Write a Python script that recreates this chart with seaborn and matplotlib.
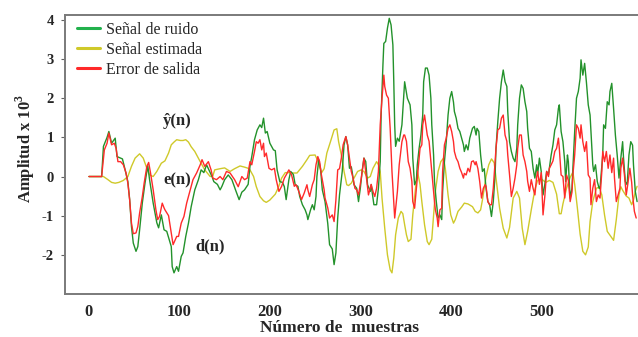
import matplotlib
matplotlib.use("Agg")
import matplotlib.pyplot as plt
import seaborn as sns
import pandas as pd
from matplotlib.lines import Line2D

# ---------------- data ----------------
# d(n): Señal de ruido
d_n = [0,14,16,20,22,25,29,31,34,37,40,43,45,47,49,52,54,56,59,62,65,67,71,75,77,80,83,86,91,92,94,97,99,102,104,107,110,113,117,121,124,127,130,134,136,138,142,145,147,150,154,158,162,166,169,172,176,178,180,183,186,189,191,193,195,197,200,204,206,208,211,214,216,218,221,223,226,228,231,233,236,239,241,242,245,247,249,251,252,254,256,258,261,264,266,269,271,273,275,277,280,282,284,286,288,290,291,293,296,298,300,302,304,306,308,311,312,315,318,320,322,323,325,326,328,330,332,334,336,337,338,339,341,343,346,348,349,352,355,357,358,360,362,363,365,367,369,370,372,374,376,378,379,381,382,384,386,388,390,391,393,395,397,399,401,403,404,406,408,410,412,414,415,417,419,421,424,426,428,429,431,433,435,437,439,441,443,445,447,449,450,452,454,456,458,460,462,463,465,467,469,471,473,474,476,478,480,482,484,485,487,489,491,493,495,496,498,500,502,504,506,508,509,511,513,515,517,519,520,522,524,526,527,529,530,531,532,534,535,537,539,541,543,544,546,548,550,552,554,555,557,558,560,562,564,565,568,569,571,573,575,576,578,580,582,584,586,588,590,591,593,595,597,599,601,602,604,606]
d_val = [0,0,0.77,1.0,1.15,0.85,0.98,0.51,0.48,0.45,0.17,-0.13,-0.59,-1.28,-1.7,-1.91,-1.79,-1.36,-0.67,-0.16,0.28,-0.08,-0.68,-1.18,-1.31,-0.98,-1.36,-1.4,-1.79,-2.3,-2.46,-2.3,-2.42,-2.04,-1.95,-1.53,-1.19,-0.77,-0.34,-0.08,0.17,0.1,0.3,0.1,0,-0.13,-0.2,-0.34,-0.25,-0.08,0.04,-0.08,-0.34,-0.59,-0.4,-0.34,-0.2,0.26,0.51,0.94,1.19,1.32,1.25,1.49,1.11,1.15,0.85,0.68,0.66,0.17,-0.13,-0.15,-0.26,-0.59,-0.08,0.13,0.05,-0.21,-0.25,-0.51,-0.72,-0.85,-0.98,-1.1,-0.85,-0.72,-0.85,-0.51,0,0.43,0.2,-0.34,-0.64,-1.2,-1.74,-1.85,-2.25,-1.95,-1.06,-0.47,0.13,0.81,1.02,0.8,0.21,0.25,0.12,-0.21,-0.3,-0.64,-0.3,0.13,0.47,0.38,-0.21,-0.38,-0.21,-0.72,-0.72,-0.3,0.38,1.57,2.85,3.4,3.45,3.79,4.04,3.87,3.36,2.42,1.32,0.77,0.98,0.9,1.32,2.08,2.42,2.0,1.83,1.32,0.47,-0.21,-0.1,0.3,0.72,1.06,1.57,2.42,2.77,2.77,2.59,2.0,1.32,0.55,-0.13,-0.64,-1.06,-0.98,-1.1,-0.38,0.38,0.89,1.57,2.0,2.17,1.9,1.66,1.49,1.23,1.15,0.98,0.81,0.64,0.81,0.68,0.98,1.23,1.28,1.06,1.23,1.15,0.55,0.13,0.2,-0.3,-0.64,-0.72,-1.02,-0.64,0.04,0.72,1.4,2.0,2.42,2.72,2.42,2.3,1.66,0.89,0.64,0.47,0.38,0.72,1.32,2.0,2.34,2.25,1.91,1.66,1.23,0.72,0.64,0.21,-0.04,0.3,0.04,0.47,0.13,-0.47,-0.2,0.13,0.04,0.21,0.55,0.81,1.19,1.32,1.74,1.83,1.15,0.89,0.38,-0.13,0.55,0.38,-0.13,-0.55,-0.3,0.21,1.15,2.0,2.17,2.51,2.98,2.59,2.89,2.4,1.83,1.57,1.15,0.3,0.13,0.3,-0.13,-0.3,-0.3,0.55,1.32,1.23,1.91,1.83,2.17,2.38,1.74,1.06,0.55,-0.04,0.47,0.89,0.47,-0.13,-0.21,0.55,0.89,0.8,0.3,-0.38,-0.64]

# y^(n): Señal estimada
y_n = [0,16,21,25,29,33,38,43,47,51,56,60,64,67,71,75,80,84,88,91,94,97,101,104,107,110,113,117,123,128,134,137,139,145,150,156,161,167,172,176,178,182,185,189,193,196,200,206,209,213,217,222,226,230,236,241,244,250,253,257,260,263,267,271,274,276,279,282,285,287,290,293,297,301,304,308,311,314,318,320,322,324,327,330,333,335,337,339,342,345,347,349,351,353,356,358,361,363,366,368,371,374,376,379,381,383,386,389,392,394,397,400,403,405,408,412,415,419,424,427,430,433,435,439,442,445,448,450,454,458,462,465,469,473,476,479,482,485,489,493,496,500,505,509,513,517,520,522,524,528,532,535,537,540,543,546,549,552,554,557,561,564,567,570,573,576,580,583,586,588,590,594,597,600,602,604,606]
y_val = [0,0,-0.08,-0.15,-0.17,-0.15,-0.1,0.0,0.26,0.47,0.58,0.47,0.21,0.04,0.0,0.13,0.34,0.4,0.6,0.81,0.88,0.94,0.92,0.92,0.94,0.88,0.76,0.64,0.38,0.17,0.0,0.02,0.17,0.2,0.22,0.13,0.2,0.27,0.24,0.21,0.17,0.0,-0.26,-0.51,-0.62,-0.66,-0.6,-0.45,-0.3,-0.04,0.1,0.1,0.09,0.09,0.26,0.43,0.54,0.55,0.4,0.09,0.2,0.6,0.89,1.19,1.22,0.89,0.55,0.13,-0.21,-0.23,-0.17,-0.04,0.13,0.17,0.13,-0.04,0.0,0.21,0.38,0.3,0.13,-0.55,-1.32,-2.0,-2.38,-2.46,-2.08,-1.49,-1.06,-0.89,-0.95,-1.23,-1.49,-1.66,-1.6,-0.98,-0.3,0.15,-0.2,-0.64,-1.23,-1.66,-1.74,-1.6,-0.98,-0.38,0.13,0.38,0.47,0.2,-0.47,-0.98,-1.19,-1.1,-0.89,-0.78,-0.68,-0.7,-0.77,-0.89,-0.93,-0.85,-0.6,0.0,0.3,0.45,0.35,-0.04,-0.81,-1.32,-1.57,-1.3,-0.55,-0.38,-0.55,-1.32,-1.74,-1.4,-0.85,-0.33,-0.1,-0.06,-0.15,-0.1,-0.15,-0.45,-0.95,-0.95,-0.7,-0.3,-0.02,0.11,-0.2,-0.81,-1.47,-1.91,-2.0,-1.8,-1.15,-0.64,-0.3,-0.27,-0.47,-0.98,-1.4,-1.5,-1.63,-1.1,-0.47,-0.26,-0.35,-0.5,-0.55,-0.72,-0.6,-0.38,-0.25]

# e(n): Error de salida
e_n = [0,14,17,20,22,25,28,30,32,35,38,41,43,45,47,49,52,54,56,59,61,64,66,68,71,74,76,78,81,83,84,88,91,93,97,99,102,105,108,112,115,119,123,125,128,132,135,137,141,145,148,152,156,161,165,169,172,175,178,180,183,185,187,189,191,193,194,196,199,202,205,207,210,213,216,218,221,224,227,229,232,235,238,241,242,244,247,249,251,253,255,257,260,261,264,266,269,271,273,275,277,279,281,284,286,288,290,292,294,296,298,301,304,306,309,312,314,316,318,320,322,324,326,327,329,331,333,335,337,338,341,343,346,348,349,351,353,355,357,358,360,362,364,366,368,369,371,372,374,376,378,380,382,383,385,386,388,390,391,393,395,397,399,401,403,404,406,408,410,412,414,415,417,419,421,423,425,427,428,430,432,434,436,438,439,441,443,445,447,449,450,452,454,456,458,460,462,463,465,467,469,471,473,474,476,478,480,482,484,485,487,489,491,493,495,496,498,500,502,504,506,508,509,511,513,515,517,519,520,522,524,526,528,530,532,534,535,537,539,541,543,544,546,548,550,552,554,555,557,559,561,563,565,567,568,570,572,574,576,578,580,581,583,585,587,588,590,592,594,596,598,600,601,603,605]
e_val = [0,0,0.68,0.85,1.11,0.81,0.85,0.72,0.38,0.38,0.3,0.09,-0.17,-0.6,-1.19,-1.46,-1.44,-1.28,-0.93,-0.51,-0.17,0.26,0.36,0.1,-0.34,-0.85,-1.1,-1.02,-0.68,-0.8,-0.85,-1.0,-1.44,-1.74,-1.53,-1.53,-1.19,-1.02,-0.68,-0.34,-0.08,0.09,0.3,0.43,0.26,0.38,0.17,-0.04,-0.08,0,-0.08,0.13,0.09,-0.08,-0.26,0.0,-0.08,-0.04,0.38,0.3,0.64,0.89,0.85,0.94,0.68,0.85,0.51,0.6,0.21,0.17,0.21,-0.08,-0.38,-0.25,-0.04,0.04,0.17,0.04,-0.25,-0.21,-0.38,-0.59,-0.42,-0.21,-0.34,-0.51,-0.21,-0.08,0.3,0.51,0.38,0.04,-0.34,-0.55,-0.8,-1.06,-0.98,-1.15,-0.6,0.17,0.2,0.47,0.81,1.02,0.81,0.47,0.13,-0.04,-0.3,-0.34,-0.47,-0.05,0.47,0.12,-0.47,-0.2,-0.38,-0.51,-0.3,0.13,1.32,2.0,2.59,2.3,2.08,2.0,1.23,0.13,-0.64,-1.06,-0.38,0.3,0.89,1.06,1.06,0.9,0.38,0.21,-0.13,-0.64,-0.81,-0.3,0.21,0.72,0.81,1.32,1.57,1.4,1.06,0.9,0.38,-0.13,-0.64,-0.85,-1.06,-1.28,-0.85,-0.81,0.13,0.81,0.98,1.23,1.32,1.15,0.89,0.64,0.47,0.38,0.21,0.1,-0.04,0.08,0.04,0.21,0.12,0.38,0.4,0.3,0.38,0.2,-0.13,-0.55,-0.3,-0.21,-0.25,-0.64,-0.72,-0.72,-0.3,0.38,0.72,1.19,1.23,1.49,1.57,1.06,0.9,0.55,0.04,-0.51,-0.3,-0.04,0.3,0.72,1.06,1.06,0.55,0.38,0.13,-0.12,-0.38,-0.08,-0.3,-0.47,0.0,0.13,-0.2,0.1,-0.98,-0.5,0.13,0.0,0.21,0.3,0.4,0.64,0.72,0.98,0.72,0.04,0.0,-0.55,0.04,-0.1,-0.64,-0.4,0.04,0.55,1.32,1.23,0.98,1.32,0.89,0.64,0.89,0.04,-0.04,-0.72,-0.3,-0.08,-0.64,-0.47,-0.55,0.13,0.64,0.38,0.64,0.21,0.55,0.1,0.47,-0.04,-0.64,-0.47,-0.3,0.21,0.47,0.04,-0.47,-0.15,0.21,-0.15,-0.47,-0.89,-1.06]

labels = ["Señal de ruido", "Señal estimada", "Error de salida"]
x_ticks = [0, 100, 200, 300, 400, 500]
y_ticks = [-2, -1, 0, 1, 2, 3, 4]
x_title = "Número de  muestras"
y_title = r"Amplitud x 10$^{\mathbf{3}}$"

# ---------------- styling ----------------
sns.set_theme(style="white")
plt.rcParams["font.family"] = ["Liberation Serif", "DejaVu Serif"]
plt.rcParams["mathtext.fontset"] = "custom"
plt.rcParams["mathtext.rm"] = "Liberation Serif"
plt.rcParams["mathtext.bf"] = "Liberation Serif:bold"

c_green_line = "#23922b"
c_yellow = "#cfc92a"
c_red = "#ff2a2a"
c_green_leg = "#22b14c"

W, H = 638, 337
fig = plt.figure(figsize=(W / 100, H / 100), dpi=100)
ax = fig.add_axes([65 / W, 43 / H, 573 / W, 279 / H])

df_d = pd.DataFrame({"n": d_n, "v": d_val})
df_y = pd.DataFrame({"n": y_n, "v": y_val})
df_e = pd.DataFrame({"n": e_n, "v": e_val})

sns.lineplot(data=df_y, x="n", y="v", ax=ax, color=c_yellow, lw=1.0, estimator=None, legend=False)
sns.lineplot(data=df_d, x="n", y="v", ax=ax, color=c_green_line, lw=1.0, estimator=None, legend=False)
sns.lineplot(data=df_e, x="n", y="v", ax=ax, color=c_red, lw=1.0, estimator=None, legend=False)

ax.set_xlim(-26.5, 607)
ax.set_ylim(-3.0, 4.125)

ax.set_xticks(x_ticks)
ax.set_xticklabels([str(t) for t in x_ticks], fontsize=12, fontweight="bold")
ax.set_yticks(y_ticks)
ax.set_yticklabels([str(t) for t in y_ticks], fontsize=10.5, fontweight="bold")
ax.tick_params(axis="x", length=0, pad=7)
ax.tick_params(axis="y", length=3, width=0.8, color="#606060", pad=5, left=True)

for s in ["left", "bottom", "top"]:
    ax.spines[s].set_color("#7a7a7a")
    ax.spines[s].set_linewidth(1.4)
ax.spines["right"].set_visible(False)

ax.set_xlabel("")
ax.set_ylabel("")
fig.text(340 / W, 1 / H, x_title, ha="center", va="bottom", fontsize=12.5, fontweight="bold")
fig.text(25 / W, 1 - 148 / H, y_title, ha="center", va="center", rotation=90, fontsize=12, fontweight="bold")

# annotations
ax.text(97.8, 1.42, "ŷ(n)", ha="center", va="center", fontsize=12, fontweight="bold")
ax.text(97.8, -0.11, "e(n)", ha="center", va="center", fontsize=12, fontweight="bold")
ax.text(133.7, -1.79, "d(n)", ha="center", va="center", fontsize=12, fontweight="bold")

handles = [Line2D([0], [0], color=c_green_leg, lw=2.2),
           Line2D([0], [0], color=c_yellow, lw=2.2),
           Line2D([0], [0], color=c_red, lw=2.2)]
ax.legend(handles, labels, loc="upper left", bbox_to_anchor=(12 / 573, 1 - 7 / 279),
          frameon=False, fontsize=11.5, handlelength=1.45, handletextpad=0.35,
          labelspacing=0.25, borderpad=0, borderaxespad=0)

fig.savefig("out.png", dpi=100)
